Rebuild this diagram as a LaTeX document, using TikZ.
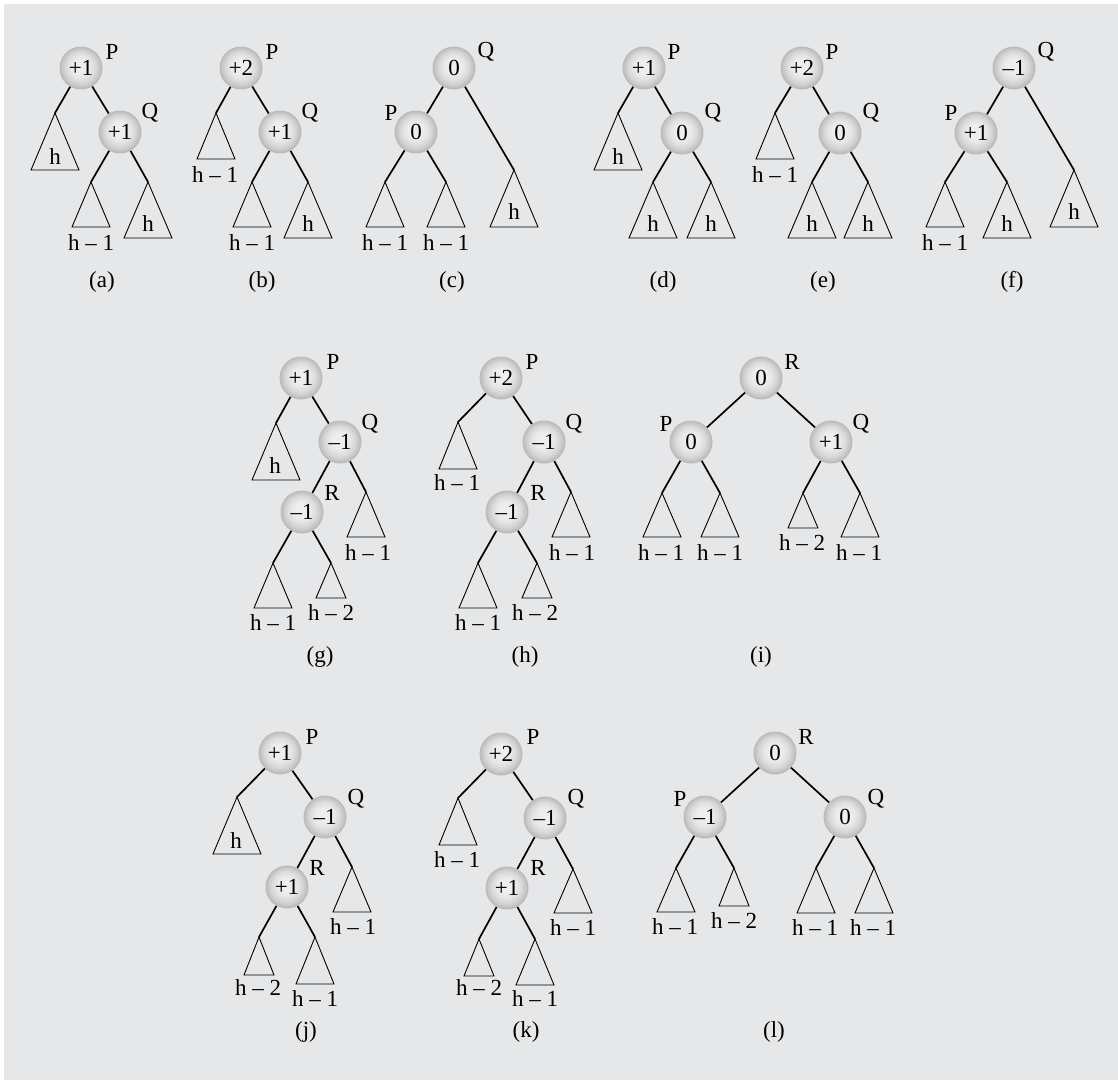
\documentclass[tikz,border=0pt]{standalone}
\usepackage{fontspec}
\setmainfont{Liberation Serif}
\definecolor{bg}{RGB}{230,231,233}
\definecolor{ballhi}{RGB}{238,238,238}
\definecolor{ballout}{RGB}{186,186,186}
\newcommand\bigf{\fontsize{23}{23}\selectfont}
\newcommand\mytri[5]{%
  \coordinate (#1) at (#2,#3);
  \draw[tri] (#1) -- ++({-#4/2},#5) -- ++(#4,0) -- cycle;}
\tikzset{
  ball/.style={circle, minimum size=43pt, inner sep=0pt, fill=ballout, font=\bigf,
    path picture={
      \foreach \k in {1,...,20}{
        \pgfmathsetmacro\rr{21.5-\k}
        \pgfmathsetmacro\pc{ifthenelse(\rr>5, 100*(1-((\rr-5)/16.5)^2), 100)}
        \pgfmathsetmacro\up{(21.5-\rr)*0.09}
        \fill[ballhi!\pc!ballout] ([yshift=\up pt]path picture bounding box.center) circle[radius=\rr pt];
      }}},
  edge/.style={line width=1.7pt},
  tri/.style={line width=0.9pt, line join=miter},
  tag/.style={font=\bigf, inner sep=0pt},
  lbl/.style={font=\bigf, inner sep=0pt},
}
\begin{document}
\begin{tikzpicture}[x=1pt,y=-1pt]
\useasboundingbox (0,0) rectangle (1118,1080);
\fill[white] (0,0) rectangle (1118,1080);
\fill[bg] (4,4) rectangle (1118,1080);

% ---------- (a)
\node[ball] (aP) at (81,68) {+1};
\node[tag] (aPt) at (112,52) {P};
\mytri{aT1}{55}{113}{48}{57}
\node[lbl] (aT1l) at (55,157) {h};
\node[ball] (aQ) at (120,132) {+1};
\node[tag] (aQt) at (150,113) {Q};
\mytri{aT2}{91}{182}{38}{45}
\node[lbl] (aT2l) at (91,243) {h – 1};
\mytri{aT3}{148}{182}{48}{56}
\node[lbl] (aT3l) at (148,224) {h};
\draw[edge] (aP) -- (aT1);
\draw[edge] (aP) -- (aQ);
\draw[edge] (aQ) -- (aT2);
\draw[edge] (aQ) -- (aT3);
\node[lbl] (acap) at (102,282) {(a)};

% ---------- (b)
\node[ball] (bP) at (241,68) {+2};
\node[tag] (bPt) at (272,52) {P};
\mytri{bT1}{216}{113}{38}{46}
\node[lbl] (bT1l) at (215,175) {h – 1};
\node[ball] (bQ) at (280,132) {+1};
\node[tag] (bQt) at (310,113) {Q};
\mytri{bT2}{252}{182}{38}{45}
\node[lbl] (bT2l) at (252,243) {h – 1};
\mytri{bT3}{308}{182}{48}{56}
\node[lbl] (bT3l) at (308,224) {h};
\draw[edge] (bP) -- (bT1);
\draw[edge] (bP) -- (bQ);
\draw[edge] (bQ) -- (bT2);
\draw[edge] (bQ) -- (bT3);
\node[lbl] (bcap) at (262,282) {(b)};

% ---------- (c)
\node[ball] (cQ) at (454,68) {0};
\node[tag] (cQt) at (486,52) {Q};
\node[ball] (cP) at (416,132) {0};
\node[tag] (cPt) at (391,113) {P};
\mytri{cT1}{385}{182}{38}{45}
\node[lbl] (cT1l) at (385,243) {h – 1};
\mytri{cT2}{446}{182}{38}{45}
\node[lbl] (cT2l) at (446,243) {h – 1};
\mytri{cT3}{514}{170}{48}{57}
\node[lbl] (cT3l) at (514,212) {h};
\draw[edge] (cQ) -- (cP);
\draw[edge] (cQ) -- (cT3);
\draw[edge] (cP) -- (cT1);
\draw[edge] (cP) -- (cT2);
\node[lbl] (ccap) at (452,282) {(c)};

% ---------- (d)
\node[ball] (dP) at (644,68) {+1};
\node[tag] (dPt) at (674,52) {P};
\mytri{dT1}{618}{113}{48}{57}
\node[lbl] (dT1l) at (618,157) {h};
\node[ball] (dQ) at (682,133) {0};
\node[tag] (dQt) at (713,113) {Q};
\mytri{dT2}{653}{182}{48}{56}
\node[lbl] (dT2l) at (653,224) {h};
\mytri{dT3}{711}{182}{48}{56}
\node[lbl] (dT3l) at (711,224) {h};
\draw[edge] (dP) -- (dT1);
\draw[edge] (dP) -- (dQ);
\draw[edge] (dQ) -- (dT2);
\draw[edge] (dQ) -- (dT3);
\node[lbl] (dcap) at (663,282) {(d)};

% ---------- (e)
\node[ball] (eP) at (802,68) {+2};
\node[tag] (ePt) at (832,52) {P};
\mytri{eT1}{775}{113}{38}{46}
\node[lbl] (eT1l) at (775,175) {h – 1};
\node[ball] (eQ) at (840,133) {0};
\node[tag] (eQt) at (871,113) {Q};
\mytri{eT2}{812}{182}{48}{56}
\node[lbl] (eT2l) at (812,224) {h};
\mytri{eT3}{868}{182}{48}{56}
\node[lbl] (eT3l) at (868,224) {h};
\draw[edge] (eP) -- (eT1);
\draw[edge] (eP) -- (eQ);
\draw[edge] (eQ) -- (eT2);
\draw[edge] (eQ) -- (eT3);
\node[lbl] (ecap) at (823,282) {(e)};

% ---------- (f)
\node[ball] (fQ) at (1014,68) {–1};
\node[tag] (fQt) at (1046,52) {Q};
\node[ball] (fP) at (976,133) {+1};
\node[tag] (fPt) at (951,113) {P};
\mytri{fT1}{945}{182}{38}{45}
\node[lbl] (fT1l) at (945,243) {h – 1};
\mytri{fT2}{1007}{182}{48}{56}
\node[lbl] (fT2l) at (1007,224) {h};
\mytri{fT3}{1074}{170}{48}{57}
\node[lbl] (fT3l) at (1074,212) {h};
\draw[edge] (fQ) -- (fP);
\draw[edge] (fQ) -- (fT3);
\draw[edge] (fP) -- (fT1);
\draw[edge] (fP) -- (fT2);
\node[lbl] (fcap) at (1012,282) {(f)};

% ---------- (g)
\node[ball] (gP) at (301,378) {+1};
\node[tag] (gPt) at (333,362) {P};
\mytri{gT1}{276}{423}{48}{57}
\node[lbl] (gT1l) at (275,466) {h};
\node[ball] (gQ) at (340,442) {–1};
\node[tag] (gQt) at (370,424) {Q};
\node[ball] (gR) at (302,512) {–1};
\node[tag] (gRt) at (332,493) {R};
\mytri{gT2}{366}{492}{38}{45}
\node[lbl] (gT2l) at (368,553) {h – 1};
\mytri{gT3}{273}{563}{38}{45}
\node[lbl] (gT3l) at (273,623) {h – 1};
\mytri{gT4}{331}{563}{30}{35}
\node[lbl] (gT4l) at (331,613) {h – 2};
\draw[edge] (gP) -- (gT1);
\draw[edge] (gP) -- (gQ);
\draw[edge] (gQ) -- (gR);
\draw[edge] (gQ) -- (gT2);
\draw[edge] (gR) -- (gT3);
\draw[edge] (gR) -- (gT4);
\node[lbl] (gcap) at (320,657) {(g)};

% ---------- (h)
\node[ball] (hP) at (501,378) {+2};
\node[tag] (hPt) at (532,362) {P};
\mytri{hT1}{458}{422}{38}{47}
\node[lbl] (hT1l) at (457,483) {h – 1};
\node[ball] (hQ) at (544,442) {–1};
\node[tag] (hQt) at (574,424) {Q};
\node[ball] (hR) at (507,512) {–1};
\node[tag] (hRt) at (538,493) {R};
\mytri{hT2}{571}{492}{38}{45}
\node[lbl] (hT2l) at (572,553) {h – 1};
\mytri{hT3}{478}{563}{38}{45}
\node[lbl] (hT3l) at (478,623) {h – 1};
\mytri{hT4}{537}{563}{30}{35}
\node[lbl] (hT4l) at (535,613) {h – 2};
\draw[edge] (hP) -- (hT1);
\draw[edge] (hP) -- (hQ);
\draw[edge] (hQ) -- (hR);
\draw[edge] (hQ) -- (hT2);
\draw[edge] (hR) -- (hT3);
\draw[edge] (hR) -- (hT4);
\node[lbl] (hcap) at (525,657) {(h)};

% ---------- (i)
\node[ball] (iR) at (761,378) {0};
\node[tag] (iRt) at (792,362) {R};
\node[ball] (iP) at (691,442) {0};
\node[tag] (iPt) at (666,424) {P};
\node[ball] (iQ) at (831,442) {+1};
\node[tag] (iQt) at (861,424) {Q};
\mytri{iT1}{662}{493}{38}{44}
\node[lbl] (iT1l) at (661,553) {h – 1};
\mytri{iT2}{720}{493}{38}{44}
\node[lbl] (iT2l) at (720,553) {h – 1};
\mytri{iT3}{803}{493}{30}{35}
\node[lbl] (iT3l) at (802,543) {h – 2};
\mytri{iT4}{860}{493}{38}{44}
\node[lbl] (iT4l) at (859,553) {h – 1};
\draw[edge] (iR) -- (iP);
\draw[edge] (iR) -- (iQ);
\draw[edge] (iP) -- (iT1);
\draw[edge] (iP) -- (iT2);
\draw[edge] (iQ) -- (iT3);
\draw[edge] (iQ) -- (iT4);
\node[lbl] (icap) at (761,657) {(i)};

% ---------- (j)
\node[ball] (jP) at (280,753) {+1};
\node[tag] (jPt) at (312,737) {P};
\mytri{jT1}{237}{797}{48}{57}
\node[lbl] (jT1l) at (236,841) {h};
\node[ball] (jQ) at (325,817) {–1};
\node[tag] (jQt) at (356,799) {Q};
\node[ball] (jR) at (287,887) {+1};
\node[tag] (jRt) at (317,868) {R};
\mytri{jT2}{352}{867}{38}{45}
\node[lbl] (jT2l) at (353,927) {h – 1};
\mytri{jT3}{259}{937}{30}{38}
\node[lbl] (jT3l) at (258,987) {h – 2};
\mytri{jT4}{315}{937}{38}{47}
\node[lbl] (jT4l) at (315,998) {h – 1};
\draw[edge] (jP) -- (jT1);
\draw[edge] (jP) -- (jQ);
\draw[edge] (jQ) -- (jR);
\draw[edge] (jQ) -- (jT2);
\draw[edge] (jR) -- (jT3);
\draw[edge] (jR) -- (jT4);
\node[lbl] (jcap) at (306,1032) {(j)};

% ---------- (k)
\node[ball] (kP) at (501,754) {+2};
\node[tag] (kPt) at (533,737) {P};
\mytri{kT1}{458}{798}{38}{47}
\node[lbl] (kT1l) at (457,860) {h – 1};
\node[ball] (kQ) at (545,818) {–1};
\node[tag] (kQt) at (576,799) {Q};
\node[ball] (kR) at (507,888) {+1};
\node[tag] (kRt) at (538,868) {R};
\mytri{kT2}{573}{869}{38}{44}
\node[lbl] (kT2l) at (573,928) {h – 1};
\mytri{kT3}{479}{939}{30}{37}
\node[lbl] (kT3l) at (479,988) {h – 2};
\mytri{kT4}{535}{939}{38}{46}
\node[lbl] (kT4l) at (535,998) {h – 1};
\draw[edge] (kP) -- (kT1);
\draw[edge] (kP) -- (kQ);
\draw[edge] (kQ) -- (kR);
\draw[edge] (kQ) -- (kT2);
\draw[edge] (kR) -- (kT3);
\draw[edge] (kR) -- (kT4);
\node[lbl] (kcap) at (526,1032) {(k)};

% ---------- (l)
\node[ball] (lR) at (775,753) {0};
\node[tag] (lRt) at (806,737) {R};
\node[ball] (lP) at (705,817) {–1};
\node[tag] (lPt) at (680,799) {P};
\node[ball] (lQ) at (845,817) {0};
\node[tag] (lQt) at (876,799) {Q};
\mytri{lT1}{676}{868}{38}{44}
\node[lbl] (lT1l) at (675,927) {h – 1};
\mytri{lT2}{734}{868}{30}{38}
\node[lbl] (lT2l) at (734,921) {h – 2};
\mytri{lT3}{816}{868}{38}{45}
\node[lbl] (lT3l) at (815,928) {h – 1};
\mytri{lT4}{874}{868}{38}{45}
\node[lbl] (lT4l) at (873,928) {h – 1};
\draw[edge] (lR) -- (lP);
\draw[edge] (lR) -- (lQ);
\draw[edge] (lP) -- (lT1);
\draw[edge] (lP) -- (lT2);
\draw[edge] (lQ) -- (lT3);
\draw[edge] (lQ) -- (lT4);
\node[lbl] (lcap) at (774,1032) {(l)};
\end{tikzpicture}
\end{document}
